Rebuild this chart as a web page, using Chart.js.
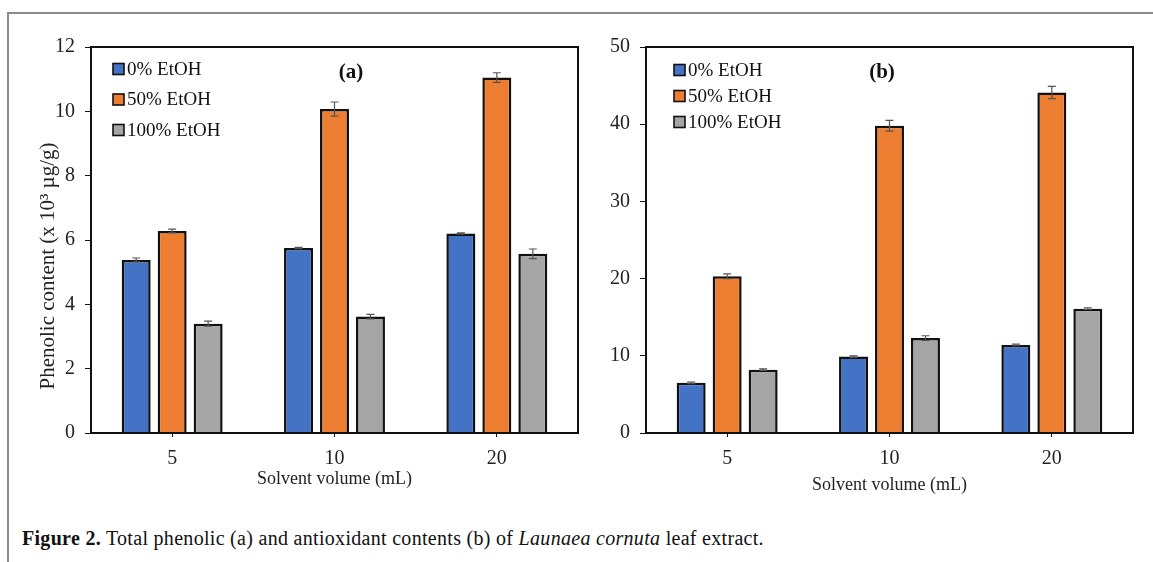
<!DOCTYPE html>
<html>
<head>
<meta charset="utf-8">
<script src="https://cdn.jsdelivr.net/npm/chart.js@4.4.0/dist/chart.umd.min.js"></script>
<style>
  html, body { margin: 0; padding: 0; background: #fff; }
  body { width: 1153px; height: 562px; position: relative; overflow: hidden; }
  .frame { position: absolute; left: 7px; top: 12px; right: 0; bottom: 0;
           border-top: 2px solid #8a8a8a; border-left: 2px solid #8a8a8a; }
  #wrapA { position: absolute; left: 20px; top: 25px; width: 570px; height: 475px; }
  #wrapB { position: absolute; left: 590px; top: 25px; width: 560px; height: 475px; }
  .caption { position: absolute; left: 22px; top: 527px; font-family: "Liberation Serif", serif;
             font-size: 20px; color: #111; white-space: nowrap; letter-spacing: 0.3px; }
</style>
</head>
<body>
<div class="frame"></div>
<div id="wrapA"><canvas id="chartA"></canvas></div>
<div id="wrapB"><canvas id="chartB"></canvas></div>
<div class="caption"><b>Figure 2.</b> Total phenolic (a) and antioxidant contents (b) of <i>Launaea cornuta</i> leaf extract.</div>
<script>
const categories = ['5', '10', '20'];
const seriesLabels = ['0% EtOH', '50% EtOH', '100% EtOH'];
const seriesColors = ['#4472C4', '#ED7D31', '#A5A5A5'];

// (a) phenolic content, x10^3 ug/g
const phenolic0 = [5.38, 5.75, 6.20];
const phenolic50 = [6.28, 10.07, 11.05];
const phenolic100 = [3.40, 3.62, 5.57];
const phenolicErr0 = [0.06, 0.02, 0.02];
const phenolicErr50 = [0.06, 0.22, 0.15];
const phenolicErr100 = [0.08, 0.07, 0.15];

// (b) antioxidant content
const antiox0 = [6.5, 9.9, 11.4];
const antiox50 = [20.3, 39.8, 44.1];
const antiox100 = [8.2, 12.3, 16.1];
const antioxErr0 = [0.1, 0.1, 0.1];
const antioxErr50 = [0.3, 0.7, 0.8];
const antioxErr100 = [0.1, 0.3, 0.1];

const FONT = '"Liberation Serif", "Times New Roman", serif';

const errorBars = {
  id: 'errorBars',
  afterDatasetsDraw(chart) {
    const ctx = chart.ctx;
    const ys = chart.scales.y;
    ctx.save();
    ctx.strokeStyle = '#555';
    ctx.lineWidth = 1.2;
    chart.data.datasets.forEach((ds, di) => {
      const meta = chart.getDatasetMeta(di);
      meta.data.forEach((bar, i) => {
        const v = ds.data[i], e = ds.errors[i];
        const y1 = ys.getPixelForValue(v + e);
        const y0 = ys.getPixelForValue(v - e);
        const x = bar.x;
        ctx.beginPath();
        ctx.moveTo(x, y0); ctx.lineTo(x, y1);
        ctx.moveTo(x - 4, y0); ctx.lineTo(x + 4, y0);
        ctx.moveTo(x - 4, y1); ctx.lineTo(x + 4, y1);
        ctx.stroke();
      });
    });
    ctx.restore();
  }
};

const boxAndLegend = {
  id: 'boxAndLegend',
  afterDraw(chart, args, opts) {
    const ctx = chart.ctx;
    const a = chart.chartArea;
    ctx.save();
    ctx.strokeStyle = '#111';
    ctx.lineWidth = 2;
    ctx.strokeRect(a.left, a.top, a.right - a.left, a.bottom - a.top);

    ctx.font = '19px ' + FONT;
    ctx.textBaseline = 'middle';
    ctx.textAlign = 'left';
    chart.data.datasets.forEach((ds, i) => {
      const cy = a.top + opts.legendTop + i * opts.legendGap;
      const bx = a.left + opts.legendLeft;
      ctx.fillStyle = ds.backgroundColor;
      ctx.fillRect(bx, cy - 5.5, 11, 11);
      ctx.lineWidth = 1.6;
      ctx.strokeStyle = '#111';
      ctx.strokeRect(bx, cy - 5.5, 11, 11);
      ctx.fillStyle = '#111';
      ctx.fillText(ds.label, bx + 14, cy + 1);
    });

    ctx.font = 'bold 21px ' + FONT;
    ctx.textAlign = 'center';
    ctx.fillText(opts.panel, a.left + opts.panelX, a.top + 26);

    if (opts.yTitle) {
      ctx.translate(opts.yTitleX, opts.yTitleY);
      ctx.rotate(-Math.PI / 2);
      ctx.font = '21px ' + FONT;
      ctx.fillStyle = '#222';
      ctx.fillText(opts.yTitle, 0, 0);
    }
    ctx.restore();
  }
};

function makeChart(id, sets, errs, yMax, yStep, yWidth, padRight, titlePad, opts) {
  return new Chart(document.getElementById(id), {
    type: 'bar',
    data: {
      labels: categories,
      datasets: sets.map((d, i) => ({
        label: seriesLabels[i],
        data: d,
        errors: errs[i],
        backgroundColor: seriesColors[i],
        borderColor: '#111',
        borderWidth: 2.5,
        borderSkipped: 'bottom',
        categoryPercentage: 0.665,
        barPercentage: 0.805
      }))
    },
    options: {
      responsive: true,
      maintainAspectRatio: false,
      animation: false,
      layout: { padding: { top: 0, right: padRight, bottom: 0, left: 0 } },
      plugins: {
        legend: { display: false },
        tooltip: { enabled: false },
        boxAndLegend: opts
      },
      scales: {
        x: {
          grid: { drawOnChartArea: false, drawTicks: true, tickLength: 4, color: '#111', offset: false },
          border: { color: '#111', width: 2 },
          ticks: { color: '#222', font: { family: FONT, size: 20 }, padding: 10 },
          title: { display: true, text: 'Solvent volume (mL)', color: '#222', font: { family: FONT, size: 18 }, padding: { top: 0, bottom: titlePad } },
          afterFit(s) { s.height = 67; }
        },
        y: {
          min: 0, max: yMax,
          grid: { drawOnChartArea: false, drawTicks: true, tickLength: 6, color: '#111' },
          border: { color: '#111', width: 2 },
          ticks: { stepSize: yStep, color: '#222', font: { family: FONT, size: 20 }, padding: 10 },
          afterFit(s) { s.width = yWidth; }
        }
      }
    },
    plugins: [errorBars, boxAndLegend]
  });
}

makeChart('chartA',
  [phenolic0, phenolic50, phenolic100],
  [phenolicErr0, phenolicErr50, phenolicErr100],
  12, 2, 71, 12, 10,
  { legendLeft: 22, legendTop: 22, legendGap: 30.5, panel: '(a)', panelX: 260,
    yTitle: 'Phenolic content (x 10\u00B3 \u00B5g/g)', yTitleX: 28, yTitleY: 241 });

makeChart('chartB',
  [antiox0, antiox50, antiox100],
  [antioxErr0, antioxErr50, antioxErr100],
  50, 10, 56, 17, 4,
  { legendLeft: 28, legendTop: 23, legendGap: 26, panel: '(b)', panelX: 236 });
</script>
</body>
</html>
